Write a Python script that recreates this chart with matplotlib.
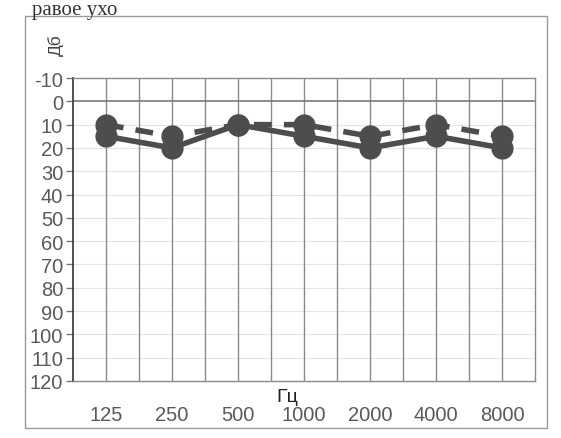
import matplotlib
matplotlib.use("Agg")
import matplotlib.pyplot as plt
from matplotlib.patches import Rectangle

# частоты и пороги слуха, правое ухо
freqs = ["125", "250", "500", "1000", "2000", "4000", "8000"]
air = [15, 20, 10, 15, 20, 15, 20]      # сплошная линия
bone = [10, 15, 10, 10, 15, 10, 15]     # пунктир
yticks = list(range(-10, 121, 10))

plt.rcParams['font.family'] = ['Liberation Sans', 'DejaVu Sans']

fig = plt.figure(figsize=(5.61, 4.39), dpi=100)
ax = fig.add_axes([0.130, 0.130, 0.824, 0.690])

pos = [2 * i + 1 for i in range(len(freqs))]
col = '#4d4d4d'

ax.plot(pos, bone, color=col, lw=4, ls=(0, (3.2, 2.2)), marker='o', ms=15,
        mfc=col, mec=col, zorder=3)
ax.plot(pos, air, color=col, lw=4, marker='o', ms=15, mfc=col, mec=col, zorder=4)

ax.set_xlim(0, 14)
ax.set_ylim(120, -10)

# сетка
for x in range(1, 14):
    ax.axvline(x, color='#8a8a8a', lw=1, zorder=1)
for y in range(10, 120, 10):
    ax.axhline(y, color='#e4e4e4', lw=0.8, zorder=0)
ax.axhline(0, color='#7a7a7a', lw=1.2, zorder=1)

ax.set_yticks(yticks)
ax.set_yticklabels([str(v) for v in yticks], fontsize=14.5, color='#5a5a5a')
ax.tick_params(axis='y', length=5, width=1, color='#777777', pad=2)
ax.set_xticks(pos)
ax.set_xticklabels(freqs, fontsize=14.5, color='#5a5a5a')
ax.tick_params(axis='x', length=0, pad=17)

ax.spines['left'].set_color('#333333')
ax.spines['left'].set_linewidth(1.2)
for s in ['top', 'right', 'bottom']:
    ax.spines[s].set_color('#8a8a8a')
    ax.spines[s].set_linewidth(1)

fig.text(56 / 561, 1 - 45 / 439, 'Дб', rotation=90, fontsize=12.5,
         color='#444444', ha='center', va='center')
fig.text(287 / 561, 1 - 398 / 439, 'Гц', fontsize=14, color='#222222',
         ha='center', va='center')

# рамка области диаграммы
fig.patches.append(Rectangle((25 / 561, 1 - 429 / 439), 522 / 561, 412 / 439,
                             transform=fig.transFigure, fill=False,
                             edgecolor='#9a9a9a', lw=1))

fig.text(32 / 561, 1 - 1 / 439, 'равое ухо', family='Liberation Serif',
         fontsize=15, color='#333333', ha='left', va='top')

fig.savefig('out.png', dpi=100)
